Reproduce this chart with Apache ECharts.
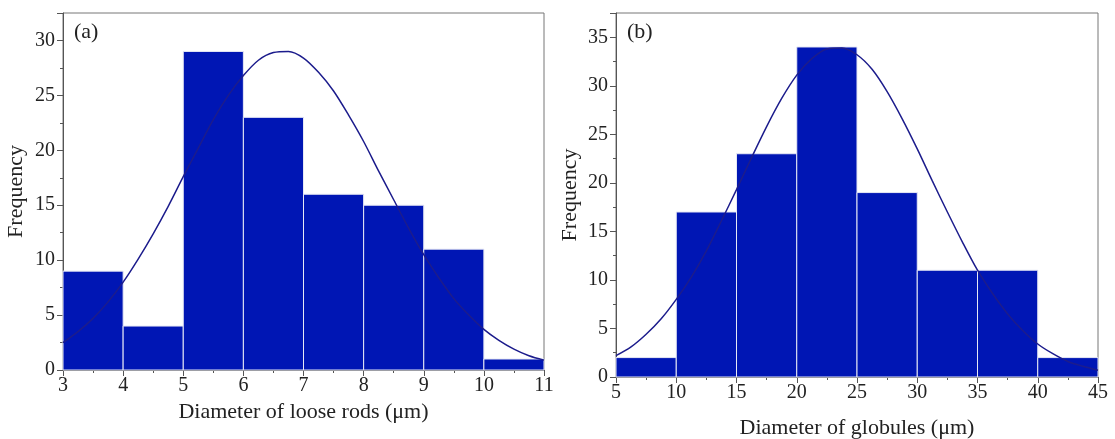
<!DOCTYPE html>
<html>
<head>
<meta charset="utf-8">
<script src="https://cdn.jsdelivr.net/npm/echarts@6/dist/echarts.min.js"></script>
<style>
  html, body { margin: 0; padding: 0; background: #fff; }
  #chart { width: 1115px; height: 439px; }
</style>
</head>
<body>
<div id="chart"></div>
<script>
// (a) loose rods histogram
const rodEdges = [3, 4, 5, 6, 7, 8, 9, 10, 11];
const rodCounts = [9, 4, 29, 23, 16, 15, 11, 1];
// fitted curve, values
const rodCurveX = [3, 3.25, 3.5, 3.75, 4, 4.25, 4.5, 4.75, 5, 5.25, 5.5, 5.75, 6, 6.25, 6.5, 6.75,
  7, 7.25, 7.5, 7.75, 8, 8.25, 8.5, 8.75, 9, 9.25, 9.5, 9.75, 10, 10.25, 10.5, 10.75, 11];
const rodCurveY = [2.5, 3.5, 4.7, 6.2, 8.0, 10.1, 12.4, 14.9, 17.6, 20.2, 22.8, 25.0, 26.8, 28.2, 28.9, 29.0,
  28.4, 27.1, 25.4, 23.2, 20.8, 18.1, 15.5, 12.9, 10.5, 8.4, 6.5, 5.0, 3.7, 2.7, 1.9, 1.3, 0.9];

// (b) globules histogram
const globEdges = [5, 10, 15, 20, 25, 30, 35, 40, 45];
const globCounts = [2, 17, 23, 34, 19, 11, 11, 2];
const globCurveX = [5, 6.25, 7.5, 8.75, 10, 11.25, 12.5, 13.75, 15, 16.25, 17.5, 18.75, 20, 21.25, 22.5, 23.75,
  25, 26.25, 27.5, 28.75, 30, 31.25, 32.5, 33.75, 35, 36.25, 37.5, 38.75, 40, 41.25, 42.5, 43.75, 45];
const globCurveY = [2.2, 3.1, 4.4, 6.0, 8.0, 10.3, 13.0, 16.1, 19.3, 22.6, 25.8, 28.7, 31.1, 32.8, 33.8, 33.9,
  33.2, 31.7, 29.4, 26.6, 23.5, 20.2, 17.0, 13.9, 11.0, 8.6, 6.5, 4.8, 3.4, 2.4, 1.6, 1.1, 0.7];

const barColor = '#0016b4';
const lineColor = '#1c1c8c';
const font = 'Liberation Serif';

const bins = (edges, counts) => counts.map((c, i) => [edges[i], edges[i + 1], c]);
const pairs = (xs, ys) => xs.map((x, i) => [x, ys[i]]);

function renderBin(params, api) {
  const p0 = api.coord([api.value(0), api.value(2)]);
  const p1 = api.coord([api.value(1), 0]);
  return {
    type: 'rect',
    shape: { x: p0[0], y: p0[1], width: p1[0] - p0[0], height: p1[1] - p0[1] },
    style: { fill: barColor, stroke: '#e6e8f5', lineWidth: 1 }
  };
}

const axisCommon = {
  axisLine: { show: true, onZero: false, lineStyle: { color: '#555', width: 1 } },
  axisTick: { show: true, inside: false, length: 6, lineStyle: { color: '#555' } },
  minorTick: { show: true, splitNumber: 2, length: 3, lineStyle: { color: '#555' } },
  splitLine: { show: false },
  nameTextStyle: { fontFamily: font, fontSize: 22, color: '#222' }
};
const labelStyle = { fontFamily: font, fontSize: 20, color: '#222' };
const intLabel = v => (Math.abs(v - Math.round(v)) < 1e-9 && v % 5 === 0 ? String(v) : '');

const chart = echarts.init(document.getElementById('chart'));
chart.setOption({
  animation: false,
  backgroundColor: '#fff',
  grid: [
    { left: 63, top: 13, width: 481, height: 357, outerBoundsMode: 'none', show: true, borderColor: '#777', borderWidth: 1 },
    { left: 616, top: 13, width: 482, height: 364, outerBoundsMode: 'none', show: true, borderColor: '#777', borderWidth: 1 }
  ],
  xAxis: [
    Object.assign({}, axisCommon, {
      type: 'value', gridIndex: 0, min: 3, max: 11, interval: 1,
      name: 'Diameter of loose rods (\u03bcm)', nameLocation: 'middle', nameGap: 31,
      axisLabel: Object.assign({ margin: 6 }, labelStyle)
    }),
    Object.assign({}, axisCommon, {
      type: 'value', gridIndex: 1, min: 5, max: 45, interval: 5,
      name: 'Diameter of globules (\u03bcm)', nameLocation: 'middle', nameGap: 40,
      axisLabel: Object.assign({ margin: 6 }, labelStyle)
    })
  ],
  yAxis: [
    Object.assign({}, axisCommon, {
      type: 'value', gridIndex: 0, min: 0, max: 32.5, interval: 5,
      name: 'Frequency', nameLocation: 'middle', nameGap: 36,
      axisLabel: Object.assign({ margin: 8, formatter: intLabel }, labelStyle)
    }),
    Object.assign({}, axisCommon, {
      type: 'value', gridIndex: 1, min: 0, max: 37.5, interval: 5,
      name: 'Frequency', nameLocation: 'middle', nameGap: 35,
      axisLabel: Object.assign({ margin: 8, formatter: intLabel }, labelStyle)
    })
  ],
  graphic: [
    { type: 'text', left: 74, top: 21, style: { text: '(a)', font: '22px "Liberation Serif"', fill: '#222' } },
    { type: 'text', left: 627, top: 21, style: { text: '(b)', font: '22px "Liberation Serif"', fill: '#222' } }
  ],
  series: [
    {
      type: 'custom', xAxisIndex: 0, yAxisIndex: 0,
      renderItem: renderBin, encode: { x: [0, 1], y: 2 },
      data: bins(rodEdges, rodCounts), z: 1
    },
    {
      type: 'line', xAxisIndex: 0, yAxisIndex: 0, smooth: 0.3, showSymbol: false,
      lineStyle: { color: lineColor, width: 1.5 }, data: pairs(rodCurveX, rodCurveY), z: 3
    },
    {
      type: 'custom', xAxisIndex: 1, yAxisIndex: 1,
      renderItem: renderBin, encode: { x: [0, 1], y: 2 },
      data: bins(globEdges, globCounts), z: 1
    },
    {
      type: 'line', xAxisIndex: 1, yAxisIndex: 1, smooth: 0.3, showSymbol: false,
      lineStyle: { color: lineColor, width: 1.5 }, data: pairs(globCurveX, globCurveY), z: 3
    }
  ]
});
</script>
</body>
</html>
